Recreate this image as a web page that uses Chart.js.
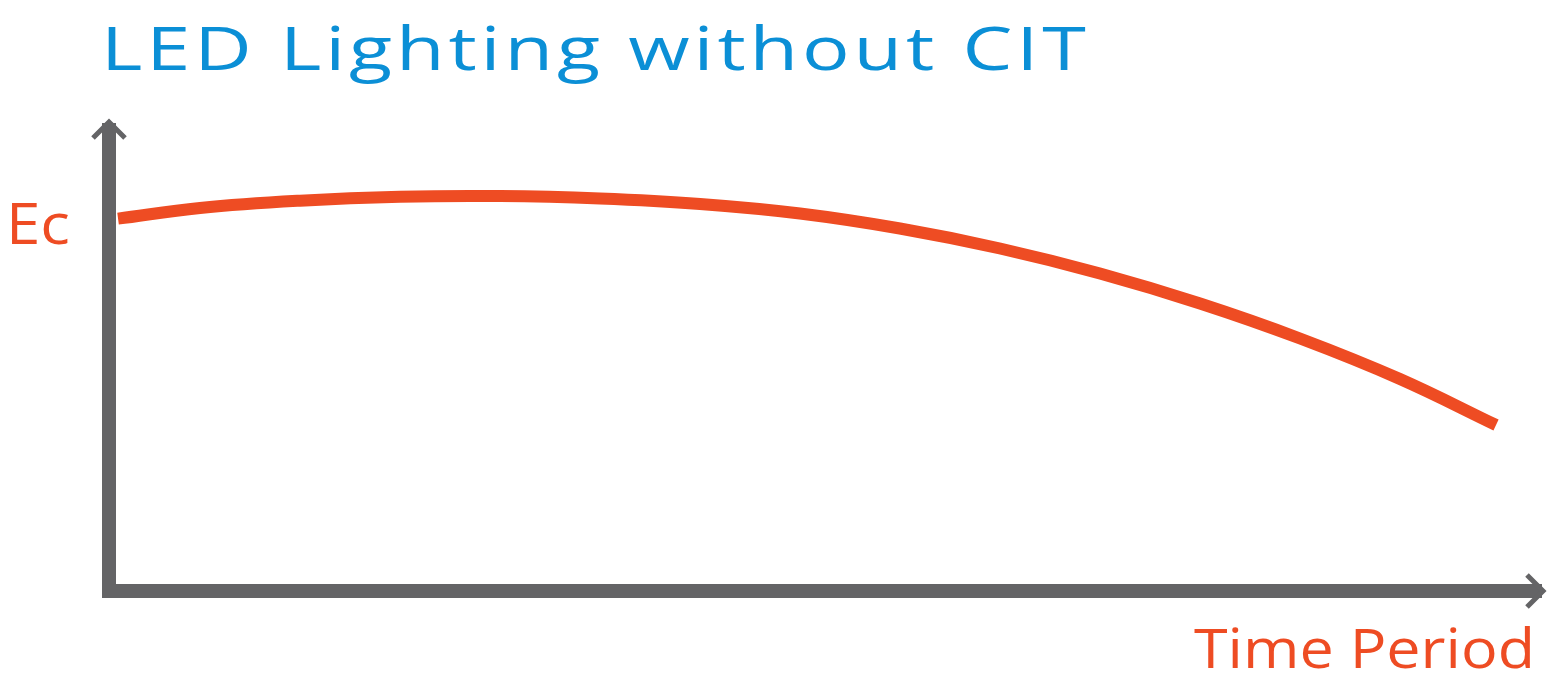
<!DOCTYPE html>
<html><head><meta charset="utf-8">
<script src="https://cdn.jsdelivr.net/npm/chart.js@4"></script>
<style>html,body{margin:0;padding:0;background:#fff;overflow:hidden}</style>
</head><body>
<canvas id="c" width="1549" height="685"></canvas>
<script>
// ---- data ----
const chartTitle = "LED Lighting without CIT";
const yAxisLabel = "Ec";
const xAxisLabel = "Time Period";
const timeValues = [0.63, 6.34, 13.30, 20.26, 27.23, 34.19, 41.16, 48.12, 55.08, 62.05, 69.01, 75.98, 82.94, 89.90, 96.59];
const ecValues   = [79.05, 81.32, 82.87, 83.72, 83.86, 83.33, 82.17, 80.15, 76.96, 72.72, 67.41, 61.04, 53.61, 45.01, 35.24];
const xRange = [0, 100];
const yRange = [0, 100];

// ---- styles ----
const AXIS = '#646466', ORANGE = '#ee4c23', BLUE = '#0b8fd6';
const FONT = '"Open Sans"';

// draw text so it spans [left, left+width]: horizontal stretch + letter spacing
function fitText(ctx, text, left, baseline, width, maxScale) {
  const n = text.length;
  const natural = ctx.measureText(text).width;
  const s = Math.min(maxScale, width / natural);
  const extra = n > 1 ? (width - natural * s) / (n - 1) : 0;
  ctx.save();
  ctx.translate(left, baseline);
  ctx.scale(s, 1);
  for (let i = 0; i < n; i++) {
    const pre = ctx.measureText(text.slice(0, i)).width;
    ctx.fillText(text[i], pre + extra * i / s, 0);
  }
  ctx.restore();
}

const axesPlugin = {
  id: 'arrowAxes',
  beforeDatasetsDraw(chart) {
    const {ctx, scales: {x, y}} = chart;
    const x0 = x.getPixelForValue(xRange[0]);
    const xR = x.getPixelForValue(xRange[1]);
    const y0 = y.getPixelForValue(yRange[0]);
    const yT = y.getPixelForValue(yRange[1]);
    const hw = 7;
    ctx.save();
    ctx.fillStyle = AXIS;
    ctx.fillRect(x0 - hw, yT + 3, hw * 2, y0 + hw - (yT + 3));
    ctx.fillRect(x0 - hw, y0 - hw, xR - 3 - (x0 - hw), hw * 2);
    ctx.strokeStyle = AXIS;
    ctx.lineWidth = 5;
    ctx.lineJoin = 'miter';
    ctx.lineCap = 'butt';
    ctx.beginPath();
    ctx.moveTo(x0 - 16, yT + 18);
    ctx.lineTo(x0, yT + 2);
    ctx.lineTo(x0 + 16, yT + 18);
    ctx.stroke();
    ctx.beginPath();
    ctx.moveTo(xR - 18, y0 - 16);
    ctx.lineTo(xR - 2, y0);
    ctx.lineTo(xR - 18, y0 + 16);
    ctx.stroke();
    ctx.restore();
  },
  afterDraw(chart) {
    const {ctx} = chart;
    ctx.save();
    ctx.textBaseline = 'alphabetic';
    ctx.textAlign = 'left';
    ctx.fillStyle = BLUE;
    ctx.font = '400 61px ' + FONT;
    fitText(ctx, chartTitle, 101, 70, 985, 1.3);
    ctx.fillStyle = ORANGE;
    ctx.font = '400 56px ' + FONT;
    fitText(ctx, yAxisLabel, 6, 244, 64, 1.2);
    ctx.font = '400 55px ' + FONT;
    fitText(ctx, xAxisLabel, 1194, 668, 341, 1.2);
    ctx.restore();
  }
};

new Chart(document.getElementById('c'), {
  type: 'line',
  data: {
    datasets: [{
      label: 'Ec',
      data: timeValues.map((t, i) => ({x: t, y: ecValues[i]})),
      borderColor: ORANGE,
      borderWidth: 12,
      borderCapStyle: 'butt',
      pointRadius: 0,
      tension: 0.4,
      fill: false
    }]
  },
  options: {
    responsive: false,
    animation: false,
    layout: {padding: {left: 109, top: 120, right: 4, bottom: 94}},
    plugins: {legend: {display: false}, tooltip: {enabled: false}, title: {display: false}},
    scales: {
      x: {type: 'linear', min: xRange[0], max: xRange[1], display: false},
      y: {type: 'linear', min: yRange[0], max: yRange[1], display: false}
    }
  },
  plugins: [axesPlugin]
});
</script>
</body></html>
